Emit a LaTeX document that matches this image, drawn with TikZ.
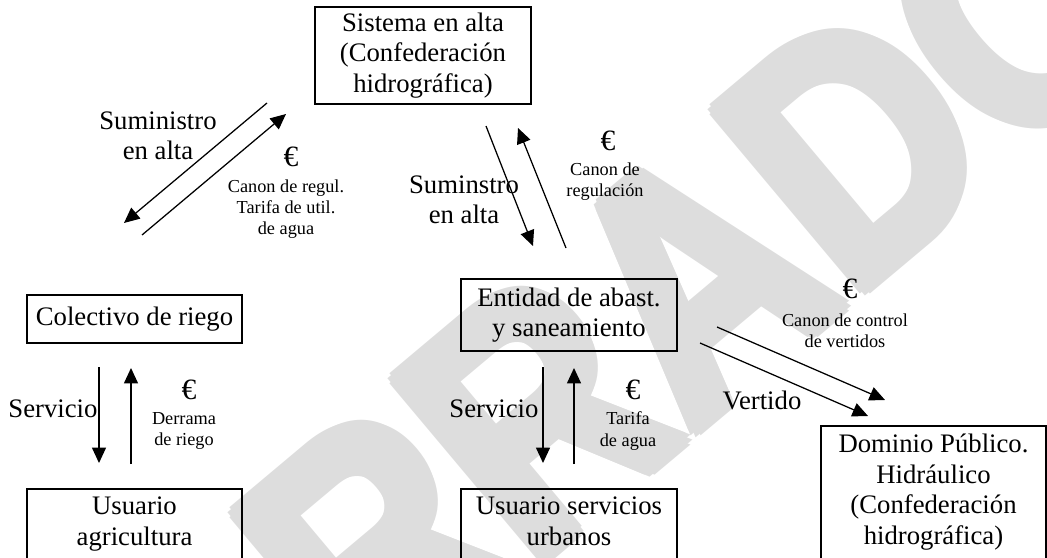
\documentclass[tikz,border=0pt]{standalone}
\usepackage{fontspec}
\setmainfont{Liberation Serif}
\newfontfamily\marcafont{Liberation Sans}
\usetikzlibrary{arrows.meta,calc}
\definecolor{marcagris}{RGB}{221,221,221}
\begin{document}
\begin{tikzpicture}[x=0.025cm,y=-0.025cm,
    caja/.style={draw,line width=1.2pt,inner sep=0pt,align=center,font=\fontsize{19}{21.7}\selectfont},
    cajabaja/.style={caja,anchor=north,inner ysep=6pt,text depth=2.5cm},
    texto/.style={inner sep=0pt,align=center,font=\fontsize{19}{21.7}\selectfont},
    nota/.style={inner sep=0pt,align=center,font=\fontsize{13}{15}\selectfont},
    euro/.style={inner sep=0pt,font=\fontsize{21}{21}\selectfont},
    marca/.style={rotate=40,xscale=0.85,text=\MARCA,inner sep=0pt,font=\marcafont\bfseries\fontsize{242}{242}\selectfont},
    flecha/.style={line width=0.9pt,-{Triangle[length=11pt,width=10pt]}}]

\def\MARCA{marcagris}
	\useasboundingbox (0,0) rectangle (1047,558);
	\clip (0,0) rectangle (1047,558);
	\node[marca] (marca) at (615,346) {BORRADOR};
	\foreach \a in {0,45,...,315}
		\node[marca] (marca\a) at ($(615,346)+(\a:7)$) {BORRADOR};

	% cajas
	\node[caja,minimum width=5.4cm,minimum height=2.425cm] (sistema) at (423,55.5) {Sistema en alta\\(Confederación\\hidrográfica)};
	\node[caja,minimum width=5.375cm,minimum height=1.2cm] (colectivo) at (134.5,319) {Colectivo de riego};
	\node[caja,minimum width=5.4cm,minimum height=1.8cm] (entidad) at (569,315) {Entidad de abast.\\y saneamiento};
	\node[cajabaja,minimum width=5.375cm] (agricultura) at (134.5,488) {Usuario\\agricultura};
	\node[cajabaja,minimum width=5.4cm] (urbanos) at (569,488) {Usuario servicios\\urbanos};
	\node[cajabaja,minimum width=5.625cm] (dominio) at (933.5,425) {Dominio Público.\\Hidráulico\\(Confederación\\hidrográfica)};

	% extremos de las flechas
	\coordinate (a1) at (267,103);   \coordinate (b1) at (124,223);
	\coordinate (a2) at (142,235);   \coordinate (b2) at (286,114);
	\coordinate (a3) at (486,126);   \coordinate (b3) at (533,246);
	\coordinate (a4) at (566,248);   \coordinate (b4) at (518,128);
	\coordinate (a5) at (99,367);    \coordinate (b5) at (99,463);
	\coordinate (a6) at (131,464);   \coordinate (b6) at (131,368);
	\coordinate (a7) at (543,367);   \coordinate (b7) at (543,463);
	\coordinate (a8) at (574,464);   \coordinate (b8) at (574,368);
	\coordinate (a9) at (717,327);   \coordinate (b9) at (885,400);
	\coordinate (a10) at (700,343);  \coordinate (b10) at (868,416);
	\draw[flecha] (a1) -- (b1);
	\draw[flecha] (a2) -- (b2);
	\draw[flecha] (a3) -- (b3);
	\draw[flecha] (a4) -- (b4);
	\draw[flecha] (a5) -- (b5);
	\draw[flecha] (a6) -- (b6);
	\draw[flecha] (a7) -- (b7);
	\draw[flecha] (a8) -- (b8);
	\draw[flecha] (a9) -- (b9);
	\draw[flecha] (a10) -- (b10);

	% rotulos
	\node[texto] (suministro) at (158,136) {Suministro\\en alta};
	\node[euro] (euro1) at (291,157) {€};
	\node[nota] (canon1) at (286,209) {Canon de regul.\\Tarifa de util.\\de agua};
	\node[texto] (suminstro) at (464,200) {Suminstro\\en alta};
	\node[euro] (euro2) at (608,141) {€};
	\node[nota] (canon2) at (605,182) {Canon de\\regulación};
	\node[texto] (servicio1) at (53,409) {Servicio};
	\node[euro] (euro3) at (189,390) {€};
	\node[nota] (derrama) at (184,431) {Derrama\\de riego};
	\node[texto] (servicio2) at (494,409) {Servicio};
	\node[euro] (euro4) at (633,390) {€};
	\node[nota] (tarifa) at (628,431) {Tarifa\\de agua};
	\node[euro] (euro5) at (850,289) {€};
	\node[nota] (canon3) at (845,331) {Canon de control\\de vertidos};
	\node[texto] (vertido) at (762,400) {Vertido};

\end{tikzpicture}
\end{document}
